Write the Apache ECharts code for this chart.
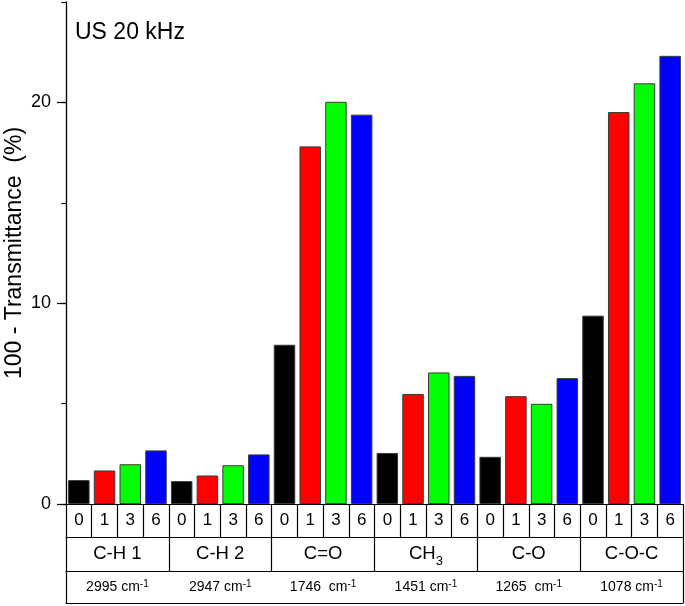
<!DOCTYPE html>
<html><head><meta charset="utf-8">
<script src="https://cdn.jsdelivr.net/npm/echarts@6/dist/echarts.min.js"></script>
<style>html,body{margin:0;padding:0;background:#fff}#c{width:685px;height:606px}</style>
</head><body><div id="c"></div>
<script>
// ---- data ----
const groups = ['C-H 1', 'C-H 2', 'C=O', 'CH3', 'C-O', 'C-O-C'];
const wavenumbers = ['2995 cm', '2947 cm', '1746  cm', '1451 cm', '1265  cm', '1078 cm'];
const timeLabels = ['0', '1', '3', '6'];
const seriesNames = ['0', '1', '3', '6'];
const values0 = [1.19, 1.14, 7.93, 2.54, 2.35, 9.38];
const values1 = [1.67, 1.42, 17.81, 5.48, 5.37, 19.52];
const values3 = [1.98, 1.93, 20.03, 6.55, 4.99, 20.95];
const values6 = [2.67, 2.47, 19.39, 6.38, 6.27, 22.32];
const colors = ['#000000', '#ff0000', '#00ff00', '#0000ff'];

const FF = '"Liberation Sans", Arial, Helvetica, sans-serif';
const cells = [];
groups.forEach(g => timeLabels.forEach(t => cells.push(g + '|' + t)));
const line = { color: '#000', width: 1.2 };

const chart = echarts.init(document.getElementById('c'), null, { renderer: 'canvas' });
const allValues = [values0, values1, values3, values6];

chart.setOption({
  animation: false,
  backgroundColor: '#fff',
  textStyle: { fontFamily: FF, color: '#000' },
  title: {
    text: 'US 20 kHz', left: 75, top: 21, padding: 0,
    textStyle: { fontFamily: FF, fontSize: 23, fontWeight: 'normal', color: '#000' }
  },
  grid: { left: 66, right: 2, top: 2, bottom: 102, containLabel: false, outerBoundsMode: 'none' },
  xAxis: [
    { type: 'category', data: groups, show: false },
    {
      type: 'category', data: cells, position: 'bottom', offset: 0,
      axisLine: { show: true, lineStyle: line },
      axisTick: { show: true, length: 33, interval: 0, lineStyle: line },
      axisLabel: {
        interval: 0, fontSize: 17, color: '#000', fontFamily: FF,
        verticalAlign: 'middle', margin: 16.5,
        formatter: v => v.split('|')[1]
      }
    },
    {
      type: 'category', data: groups, position: 'bottom', offset: 33,
      axisLine: { show: true, lineStyle: line },
      axisTick: { show: true, length: 34, interval: 0, lineStyle: line },
      axisLabel: {
        interval: 0, color: '#000', fontFamily: FF, verticalAlign: 'middle', margin: 17,
        formatter: v => v === 'CH3' ? '{n|CH}{s|3}' : '{m|' + v + '}',
        rich: {
          m: { fontSize: 18.5, fontFamily: FF, color: '#000' },
          n: { fontSize: 18.5, lineHeight: 28, fontFamily: FF, color: '#000' },
          s: { fontSize: 13, lineHeight: 13, padding: [15, 0, 0, 0], fontFamily: FF, color: '#000' }
        }
      }
    },
    {
      type: 'category', data: wavenumbers, position: 'bottom', offset: 67,
      axisLine: { show: true, lineStyle: line },
      axisTick: { show: true, length: 32, interval: (i) => i === 0, lineStyle: line },
      axisLabel: {
        interval: 0, color: '#000', fontFamily: FF, verticalAlign: 'middle', margin: 16,
        formatter: v => '{n|' + v + '}{s|-1}',
        rich: {
          n: { fontSize: 14, lineHeight: 20, fontFamily: FF, color: '#000' },
          s: { fontSize: 10, lineHeight: 14, padding: [0, 0, 6, 0], fontFamily: FF, color: '#000' }
        }
      }
    },
    {
      type: 'category', data: groups, position: 'bottom', offset: 99,
      axisLine: { show: true, lineStyle: line },
      axisTick: { show: false }, axisLabel: { show: false }
    }
  ],
  yAxis: [
    {
      type: 'value', min: 0, max: 25, interval: 10, position: 'left',
      name: '100 - Transmittance  (%)', nameLocation: 'middle', nameGap: 40,
      nameMoveOverlap: false,
      nameTextStyle: { fontSize: 23, color: '#000', fontFamily: FF },
      axisLine: { show: true, lineStyle: { color: '#000', width: 1.3 } },
      axisTick: { show: true, length: 9, lineStyle: line },
      axisLabel: { fontSize: 18, color: '#000', fontFamily: FF, margin: 15, showMaxLabel: false },
      splitLine: { show: false }
    },
    {
      type: 'value', min: 0, max: 25, interval: 5, position: 'left',
      axisLine: { show: false },
      axisTick: { show: true, length: 4.5, lineStyle: line },
      axisLabel: { show: false },
      splitLine: { show: false }
    }
  ],
  series: allValues.map((vals, i) => ({
    type: 'bar', name: seriesNames[i], data: vals,
    xAxisIndex: 0, yAxisIndex: 0,
    barWidth: 21.5, barGap: '19.6%',
    itemStyle: { color: colors[i], borderColor: '#3a3a3a', borderWidth: 1 }
  }))
});
</script>
</body></html>
